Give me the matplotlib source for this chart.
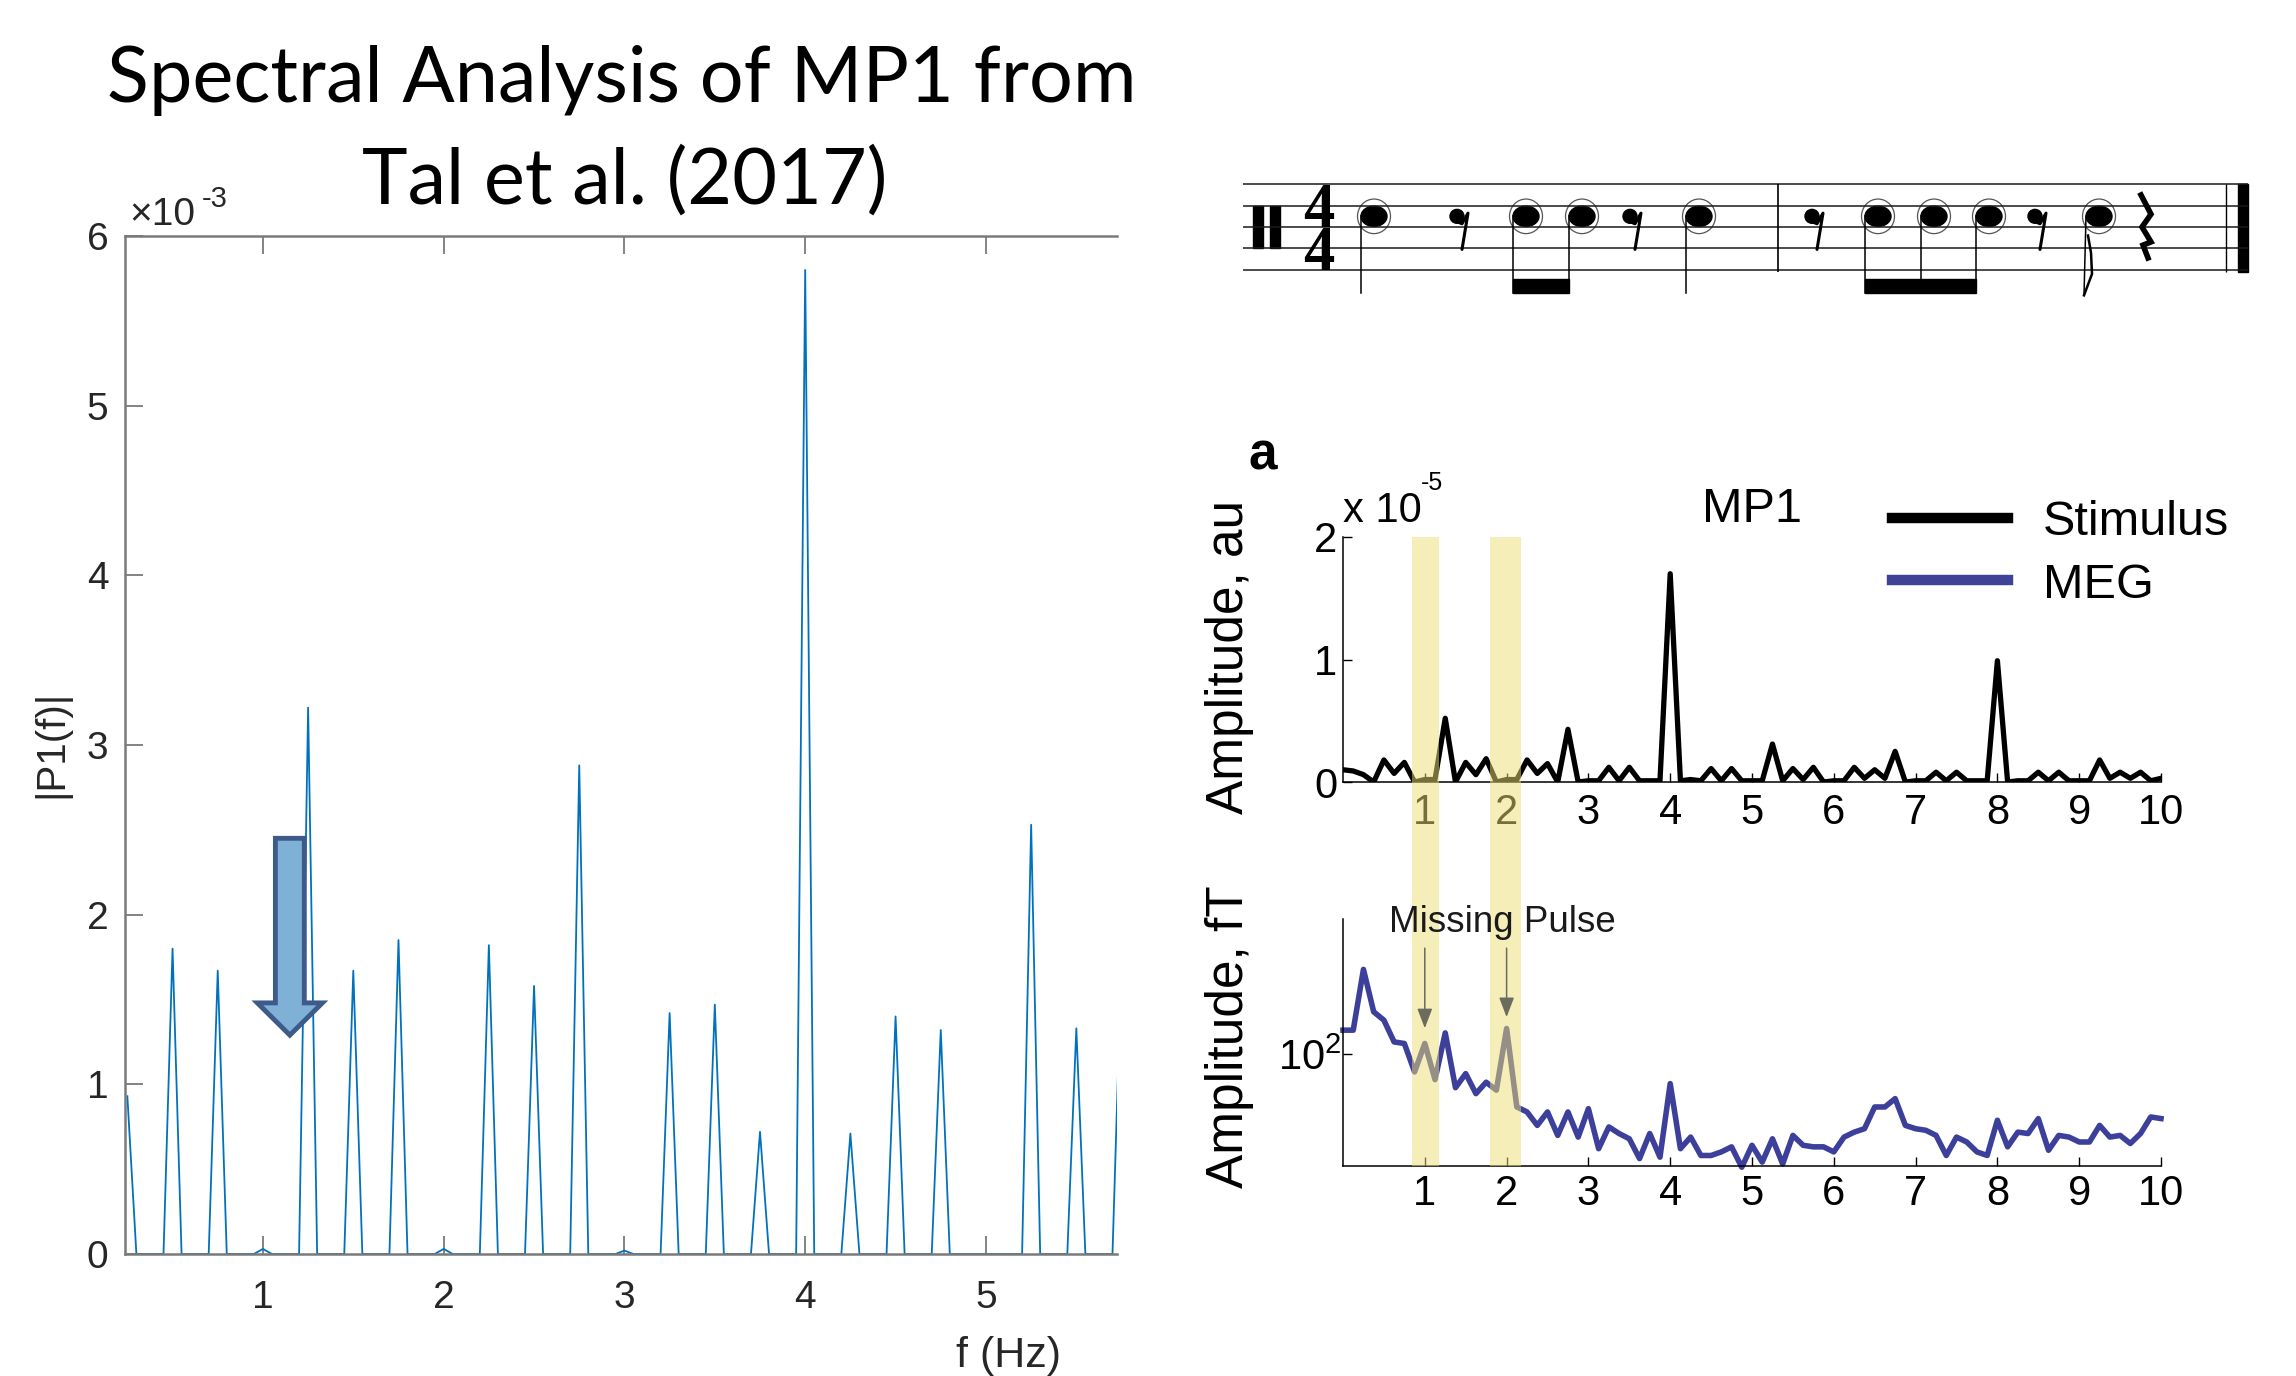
import numpy as np
import matplotlib
matplotlib.use('Agg')
import matplotlib.pyplot as plt
from matplotlib.patches import Ellipse, Rectangle, FancyArrow, FancyArrowPatch
from matplotlib.lines import Line2D
from matplotlib.font_manager import FontProperties

plt.rcParams['font.family'] = ['Liberation Sans', 'DejaVu Sans']

W, H = 2296, 1376

# ---------------- data ----------------
# left panel: single-sided amplitude spectrum |P1(f)| (values in units of 1e-3)
p1_peak_freqs = [0.25, 0.5, 0.75, 1.0, 1.25, 1.5, 1.75, 2.0, 2.25, 2.5, 2.75, 3.0,
                 3.25, 3.5, 3.75, 4.0, 4.25, 4.5, 4.75, 5.25, 5.5, 5.75]
p1_peak_amps = [0.93, 1.80, 1.67, 0.03, 3.22, 1.67, 1.85, 0.03, 1.82, 1.58, 2.88, 0.02,
                1.42, 1.47, 0.72, 5.80, 0.71, 1.40, 1.32, 2.53, 1.33, 1.75]
p1_yticklabels = ['0', '1', '2', '3', '4', '5', '6']
p1_xticks = [1, 2, 3, 4, 5]

# right panels: 0-10 Hz in 0.125 Hz bins
stim_amp = [0.10, 0.09, 0.06, 0.00, 0.18, 0.07, 0.16, 0.00, 0.02, 0.02,
            0.52, 0.00, 0.16, 0.06, 0.19, 0.00, 0.02, 0.02, 0.18, 0.07,
            0.15, 0.00, 0.43, 0.00, 0.01, 0.01, 0.12, 0.01, 0.12, 0.01,
            0.01, 0.01, 1.70, 0.01, 0.02, 0.01, 0.11, 0.01, 0.11, 0.01,
            0.01, 0.01, 0.31, 0.01, 0.11, 0.02, 0.12, 0.00, 0.01, 0.01,
            0.12, 0.03, 0.10, 0.03, 0.25, 0.00, 0.01, 0.01, 0.08, 0.01,
            0.08, 0.01, 0.01, 0.01, 0.99, 0.00, 0.01, 0.01, 0.08, 0.01,
            0.08, 0.01, 0.01, 0.01, 0.18, 0.03, 0.08, 0.03, 0.08, 0.01,
            0.03]  # x 1e-5 au
meg_amp = [121.8, 121.8, 200.5, 141.6, 132.2, 110.6, 109.2, 86.5, 109.2, 81.2,
           119.1, 76.0, 85.3, 72.4, 79.5, 74.5, 123.5, 64.9, 62.3, 55.8,
           62.3, 51.4, 62.3, 50.7, 64.0, 46.1, 55.1, 52.2, 50.0, 42.5,
           52.2, 43.0, 78.6, 46.1, 50.7, 43.6, 43.6, 44.9, 46.8, 39.6,
           47.4, 41.3, 50.0, 40.7, 51.4, 47.4, 46.8, 46.8, 44.9, 50.7,
           52.8, 54.3, 64.9, 64.9, 69.5, 55.8, 54.3, 53.6, 51.4, 43.6,
           50.7, 48.7, 44.9, 43.6, 58.2, 46.8, 52.8, 52.2, 59.0, 45.5,
           51.4, 50.7, 48.7, 48.7, 55.8, 50.7, 51.4, 48.1, 52.2, 59.8,
           59.0]  # fT
right_xticks = [1, 2, 3, 4, 5, 6, 7, 8, 9, 10]
stim_yticklabels = ['0', '1', '2']
missing_bands = [(0.84, 1.17), (1.80, 2.17)]
missing_arrows = [(1.0, 238.6, 123.8), (2.0, 238.6, 135.6)]

# rhythm MP1 (staff drawing, x in figure pixels)
note_x = [1374, 1526, 1582, 1699, 1878, 1934, 1989, 2099]
beam_groups = [(1, 2), (4, 6)]
flag_note = 7
eighth_rest_x = [1460, 1633, 1815, 2038]
quarter_rest_x = [2146]
bar_x = [1778]

fig = plt.figure(figsize=(W / 100, H / 100), dpi=100)
fig.patch.set_facecolor('white')
rend = fig.canvas.get_renderer()


def frame(l, t, r, b):
    return [l / W, 1 - b / H, (r - l) / W, (b - t) / H]


# ---------------- left panel ----------------
f1 = np.round(np.arange(0.25, 5.80, 0.05), 3)
p1 = np.zeros_like(f1)
for pf, pa in zip(p1_peak_freqs, p1_peak_amps):
    p1[np.isclose(f1, pf)] = pa * 1e-3

ax1 = fig.add_axes(frame(125, 236, 1117, 1254))
ax1.plot(f1, p1, color='#0072BD', lw=1.3)
ax1.set_xlim(0.237, 5.725)
ax1.set_ylim(0, 6e-3)
ax1.set_xticks(p1_xticks)
ax1.set_xticklabels([str(v) for v in p1_xticks])
ax1.set_yticks(np.arange(len(p1_yticklabels)) * 1e-3)
ax1.set_yticklabels(p1_yticklabels)
for s in ['top', 'left', 'bottom']:
    ax1.spines[s].set_color('#7a7a7a')
    ax1.spines[s].set_linewidth(1.8)
ax1.spines['right'].set_visible(False)
ax1.tick_params(direction='in', length=13, width=1.3, color='#7a7a7a',
                labelsize=28, labelcolor='#262626', top=True)
ax1.tick_params(axis='x', pad=19)
ax1.tick_params(axis='y', pad=12)
fig.text(129 / W, 1 - 225 / H, '\u00d710', fontsize=28, color='#262626', va='baseline')
fig.text(202 / W, 1 - 207 / H, '-3', fontsize=21, color='#262626', va='baseline')
fig.text(51 / W, 1 - 744 / H, '|P1(f)|', rotation=90, fontsize=29, color='#262626',
         ha='center', va='center')
fig.text(1008 / W, 1 - 1336 / H, 'f (Hz)', fontsize=31, color='#262626',
         ha='center', va='top')
ax1.add_patch(FancyArrow(1.149, 2.45e-3, 0, -1.16e-3, width=0.16, head_width=0.36,
                         head_length=0.19e-3, length_includes_head=True,
                         fc='#7FB1D6', ec='#3D5A8A', lw=3.5, joinstyle='miter', zorder=5))

# title
t1 = fig.text(622 / W, 1 - 102 / H, 'Spectral Analysis of MP1 from', family='Lato',
              fontsize=60, ha='center', va='baseline', color='black')
t2 = fig.text(625 / W, 1 - 204 / H, 'Tal et al. (2017)', family='Lato',
              fontsize=60, ha='center', va='baseline', color='black')
scale = 1031 / t1.get_window_extent(rend).width
t1.set_fontsize(60 * scale)
t2.set_fontsize(60 * scale)

# ---------------- right top: stimulus ----------------
fr = np.linspace(0, 10, len(stim_amp))
ax2 = fig.add_axes(frame(1343, 537, 2161, 782))
ax2.plot(fr, np.array(stim_amp) * 1e-5, color='black', lw=3.8)
ax2.set_xlim(0, 10)
ax2.set_ylim(0, 2e-5)
ax2.set_xticks(right_xticks)
ax2.set_xticklabels([str(v) for v in right_xticks])
ax2.set_yticks(np.arange(len(stim_yticklabels)) * 1e-5)
ax2.set_yticklabels(stim_yticklabels)

# ---------------- right bottom: MEG ----------------
ax3 = fig.add_axes(frame(1343, 919, 2161, 1166))
ax3.plot(fr, meg_amp, color='#3C409A', lw=4, clip_on=False)
ax3.set_yscale('log')
ax3.set_xlim(0, 10)
ax3.set_ylim(40, 303)
ax3.set_xticks(right_xticks)
ax3.set_xticklabels([str(v) for v in right_xticks])
ax3.set_yticks([100])
ax3.set_yticklabels([r'$\mathdefault{10^{2}}$'])
ax3.yaxis.set_minor_locator(matplotlib.ticker.NullLocator())

for ax in (ax2, ax3):
    ax.spines['top'].set_visible(False)
    ax.spines['right'].set_visible(False)
    for s in ['left', 'bottom']:
        ax.spines[s].set_linewidth(1.1)
    ax.tick_params(direction='in', length=6.5, width=1, labelsize=30, colors='black')
    ax.tick_params(axis='y', pad=4)
ax2.tick_params(axis='x', pad=8)
ax3.tick_params(axis='x', pad=6)
ax3.tick_params(axis='y', pad=1)

fig.text(1502 / W, 1 - 922 / H, 'Missing Pulse', fontsize=26.5, color='#1a1a1a',
         ha='center', va='center')

# legend
handles = [Line2D([], [], color='black', lw=7.5), Line2D([], [], color='#3F4397', lw=7.5)]
fig.legend(handles, ['Stimulus', 'MEG'], loc='upper left',
           bbox_to_anchor=(1892 / W, 1 - 500 / H), frameon=False, fontsize=35,
           handlelength=2.39, handletextpad=0.72, labelspacing=0.36, borderpad=0,
           borderaxespad=0)

fig.text(1752 / W, 1 - 509 / H, 'MP1', fontsize=35, ha='center', va='center')
fig.text(1343 / W, 1 - 522 / H, 'x 10', fontsize=30, va='baseline')
fig.text(1421 / W, 1 - 490 / H, '-5', fontsize=18, va='baseline')
fig.text(1248 / W, 1 - 469 / H, 'a', fontsize=37, weight='bold', va='baseline')
fig.text(1229 / W, 1 - 657 / H, 'Amplitude, au', rotation=90, fontsize=37,
         ha='center', va='center')
fig.text(1229 / W, 1 - 1037 / H, 'Amplitude, fT', rotation=90, fontsize=37,
         ha='center', va='center')

# yellow highlight bands across both right panels
p2 = ax2.get_position()
p3 = ax3.get_position()
for lo, hi in missing_bands:
    x0 = p2.x0 + lo / 10 * p2.width
    x1 = p2.x0 + hi / 10 * p2.width
    fig.add_artist(Rectangle((x0, p3.y0), x1 - x0, p2.y1 - p3.y0, transform=fig.transFigure,
                             facecolor='#EFDF75', alpha=0.5, edgecolor='none', zorder=1))

for fx, ytop, ytip in missing_arrows:
    fig.add_artist(FancyArrowPatch((fx, ytop), (fx, ytip), transform=ax3.transData,
                                   arrowstyle='-|>,head_length=0.6,head_width=0.23',
                                   mutation_scale=20, color='#6b6b5e', lw=1.1,
                                   shrinkA=0, shrinkB=0, zorder=2))

# ---------------- rhythm staff ----------------
sp = 21.35  # pixels between staff lines
mus = fig.add_axes(frame(1230, 160, 2296, 330))
mus.set_xlim(1230, 2296)
mus.set_ylim((330 - 184.3) / sp, (160 - 184.3) / sp)
mus.axis('off')
mus.hlines(range(5), 1243, 2248, color='#1a1a1a', lw=1.1)
for bx in bar_x:
    mus.vlines(bx, 0, 4.1, color='black', lw=1.2)
mus.vlines(2226, 0, 4.1, color='black', lw=1.0)
mus.add_patch(Rectangle((2238, 0), 10, 4.1, color='black'))
mus.add_patch(Rectangle((1253, 1.0), 10, 2.0, color='black'))
mus.add_patch(Rectangle((1270, 1.0), 10, 2.0, color='black'))

# time signature as one two-line text, baselines on staff lines 2 and 4
ts_prop = FontProperties(family='Liberation Serif', weight='bold', size=45)
_, lp_h, lp_d = rend.get_text_width_height_descent('lp', ts_prop, ismath=False)
ts_ls = (2 * sp - lp_d) / (lp_h - lp_d)
mus.text(1319, 4 + lp_d / sp, '4\n4', fontproperties=ts_prop, ha='center', va='bottom',
         linespacing=ts_ls, multialignment='center')

for i, nx in enumerate(note_x):
    mus.add_patch(Ellipse((nx, 1.5), 26, 0.95, color='black'))
    mus.add_patch(Ellipse((nx, 1.5), 33, 1.62, fill=False, ec='#555555', lw=0.9))
    sx = nx - 13
    if i == flag_note:
        mus.plot([sx, sx - 2], [1.5, 5.2], color='black', lw=1.1)
        mus.plot([sx - 2, sx + 6, sx + 5, sx + 2], [5.2, 4.2, 3.2, 2.4], color='black', lw=1.8)
    else:
        mus.plot([sx, sx], [1.5, 5.1], color='black', lw=1.1)
for a, b in beam_groups:
    xa, xb = note_x[a] - 13, note_x[b] - 13
    mus.add_patch(Rectangle((xa, 4.45), xb - xa, 0.63, color='black'))
for rx in eighth_rest_x:
    mus.add_patch(Ellipse((rx - 3, 1.5), 14, 0.65, color='black'))
    mus.plot([rx - 3, rx + 2, rx + 8, rx + 2], [1.75, 1.85, 1.35, 3.05], color='black',
             lw=2.2, solid_capstyle='round')
for qx in quarter_rest_x:
    mus.plot([qx - 5, qx + 5, qx - 4, qx + 5, qx - 3, qx + 2],
             [0.5, 1.4, 2.0, 2.7, 2.85, 3.45], color='black', lw=4, solid_joinstyle='miter')

fig.savefig('out.png', dpi=100, facecolor='white')
